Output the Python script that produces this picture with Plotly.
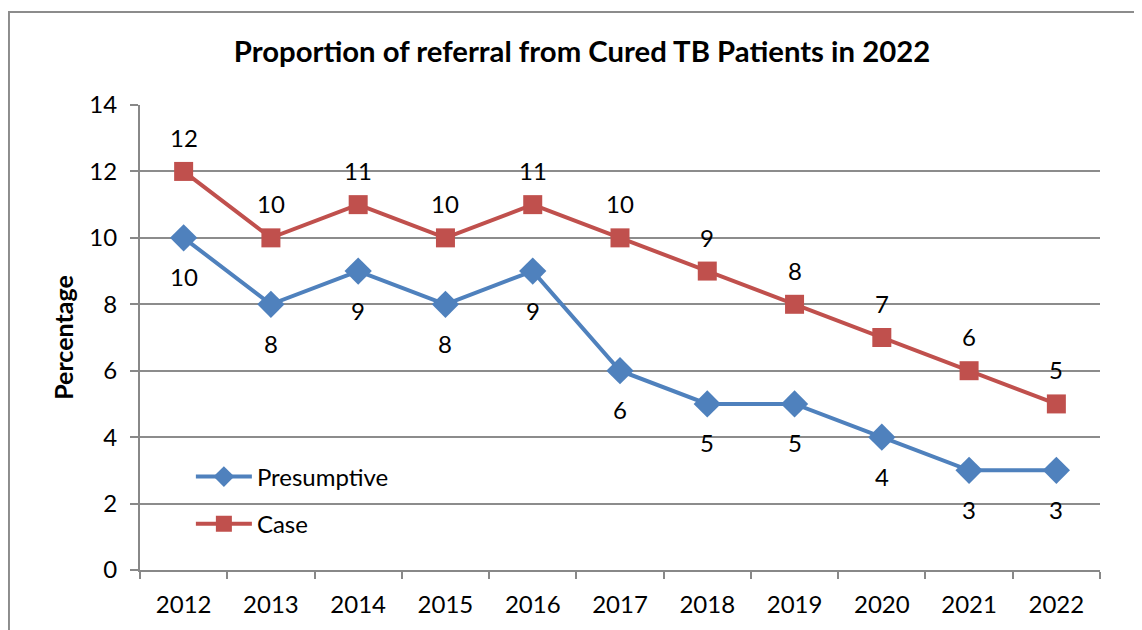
import plotly.graph_objects as go

years = ["2012", "2013", "2014", "2015", "2016", "2017", "2018", "2019", "2020", "2021", "2022"]
presumptive = [10, 8, 9, 8, 9, 6, 5, 5, 4, 3, 3]
case = [12, 10, 11, 10, 11, 10, 9, 8, 7, 6, 5]

BLUE = "#4F81BD"
RED = "#C0504D"
FONT = "Lato, Open Sans, sans-serif"

fig = go.Figure()
fig.add_trace(go.Scatter(x=years, y=presumptive, name="Presumptive", mode="lines+markers",
                         legendgroup="p",
                         line=dict(color=BLUE, width=4),
                         marker=dict(symbol="diamond", size=21, color=BLUE)))
fig.add_trace(go.Scatter(x=years, y=case, name="Case", mode="lines+markers",
                         legendgroup="c",
                         line=dict(color=RED, width=4),
                         marker=dict(symbol="square", size=19, color=RED)))

for i, v in enumerate(case):
    fig.add_annotation(x=i, y=v, xref="x", yref="y", text=str(v), showarrow=False, yshift=34,
                       font=dict(size=24, color="black", family=FONT))
for i, v in enumerate(presumptive):
    fig.add_annotation(x=i, y=v, xref="x", yref="y", text=str(v), showarrow=False, yshift=-39,
                       font=dict(size=24, color="black", family=FONT))

# outer chart border
fig.add_shape(type="rect", xref="paper", yref="paper", x0=-0.1365, y0=-0.3, x1=1.2, y1=1.2,
              line=dict(color="#8C8C8C", width=2), fillcolor="rgba(0,0,0,0)", layer="below")

fig.update_layout(
    width=1142, height=630,
    margin=dict(l=132, r=50, t=97, b=68),
    paper_bgcolor="white", plot_bgcolor="white",
    font=dict(family=FONT, size=24, color="black"),
    title=dict(text="<b>Proportion of referral from Cured TB Patients in 2022</b>",
               x=0.5026, xanchor="center", y=0.930, yanchor="middle",
               font=dict(size=29.3, family=FONT, color="black")),
    showlegend=True,
    legend=dict(x=0.053, y=0.2485, xanchor="left", yanchor="top",
                bgcolor="rgba(0,0,0,0)", font=dict(size=24, family=FONT),
                tracegroupgap=13, itemwidth=56),
    xaxis=dict(type="category", tickson="boundaries", ticks="outside", ticklen=7,
               tickcolor="#888888", tickwidth=2, showline=True, linecolor="#888888",
               linewidth=2, showgrid=False, tickfont=dict(size=24), range=[-0.5, 10.5],
               ticklabelstandoff=12),
    yaxis=dict(range=[0, 14], tickvals=[0, 2, 4, 6, 8, 10, 12, 14], ticks="outside",
               ticklen=8, tickcolor="#888888", tickwidth=2, showline=True,
               linecolor="#888888", linewidth=2, showgrid=True, gridcolor="#8C8C8C",
               gridwidth=1.5, tickfont=dict(size=24), zeroline=False,
               ticklabelstandoff=8,
               title=dict(text="<b>Percentage</b>", font=dict(size=25), standoff=9)),
)

fig.write_html("out.html")
